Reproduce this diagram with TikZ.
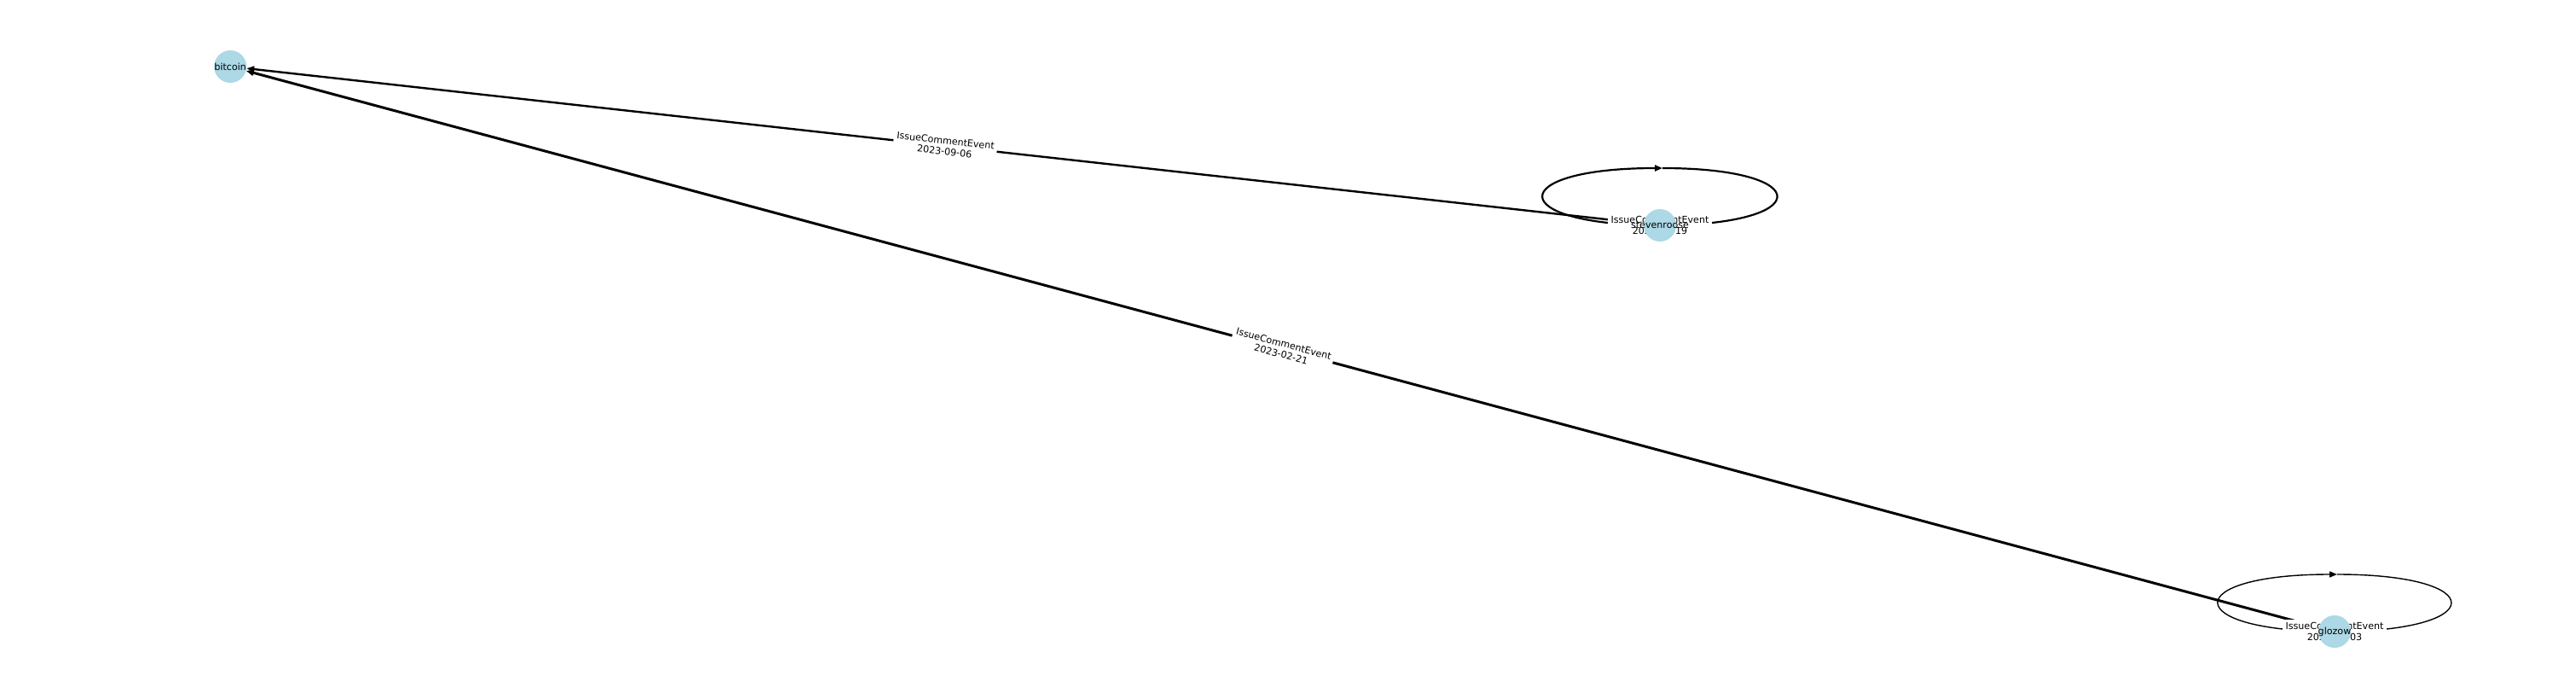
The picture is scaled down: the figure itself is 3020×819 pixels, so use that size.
\documentclass[tikz,border=0pt]{standalone}
\usepackage{fontspec}
\setmainfont{DejaVu Sans}
\usetikzlibrary{arrows.meta,calc}
\pgfdeclarelayer{edges}
\pgfdeclarelayer{labels}
\pgfsetlayers{edges,labels,main}
\definecolor{nodeblue}{HTML}{ADD8E6}
\begin{document}
\begin{tikzpicture}[x=1pt,y=-1pt,
  vertex/.style={circle,fill=nodeblue,inner sep=0pt,minimum size=38pt,
    label={[font=\fontsize{11.1}{13}\selectfont,inner sep=0pt]center:#1}},
  elabel/.style={fill=white,rounded corners=3pt,inner sep=3.5pt,align=center,
    font=\fontsize{11.1}{12.5}\selectfont},
  tip/.style={-{Triangle[length=9pt,width=7pt]}},
]
\useasboundingbox (0,0) rectangle (3020,819);

\node[vertex=bitcoin] (bitcoin) at (270,78) {};
\node[vertex=stevenroose] (steven) at (1946,264) {};
\node[vertex=glozow] (glozow) at (2737,740) {};

\coordinate (steventop) at ($(steven.center)+(3,-67)$);
\coordinate (glozowtop) at ($(glozow.center)+(3,-67)$);

\begin{pgfonlayer}{edges}
  \draw[tip,line width=2.4pt] (steven) -- (bitcoin);
  \draw[tip,line width=3pt] (glozow) -- (bitcoin);
  \draw[tip,line width=2.2pt] (steven.center) .. controls +(-183,0) and +(-186,0) .. (steventop);
  \draw[line width=2.2pt] (steventop) .. controls +(180,0) and +(183,0) .. (steven.center);
  \draw[tip,line width=1.4pt] (glozow.center) .. controls +(-182,0) and +(-185,0) .. (glozowtop);
  \draw[line width=1.4pt] (glozowtop) .. controls +(179,0) and +(182,0) .. (glozow.center);
\end{pgfonlayer}

\begin{pgfonlayer}{labels}
  \node[elabel,rotate=-6.33] (lab1) at ($(bitcoin)!0.5!(steven)$) {IssueCommentEvent\\2023-09-06};
  \node[elabel,rotate=-15.02] (lab2) at ($(bitcoin)!0.5!(glozow)$) {IssueCommentEvent\\2023-02-21};
  \node[elabel] (lab3) at (steven) {IssueCommentEvent\\2023-09-19};
  \node[elabel] (lab4) at (glozow) {IssueCommentEvent\\2023-02-03};
\end{pgfonlayer}
\end{tikzpicture}
\end{document}
